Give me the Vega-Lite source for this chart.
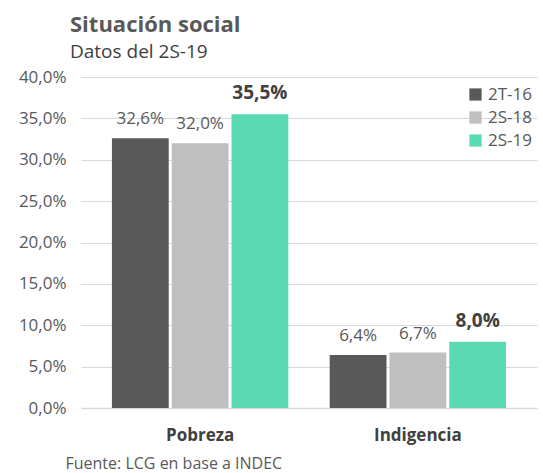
{
  "$schema": "https://vega.github.io/schema/vega-lite/v6.json",
  "autosize": {"type": "none"},
  "padding": {"left": 81, "top": 77, "right": 6, "bottom": 65},
  "width": 456,
  "height": 331,
  "config": {
    "locale": {"number": {"decimal": ",", "thousands": ".", "grouping": [3], "currency": ["$", ""]}},
    "font": "Open Sans",
    "view": {"stroke": null}
  },
  "title": {
    "text": "Situación social",
    "subtitle": "Datos del 2S-19",
    "anchor": "start",
    "frame": "group",
    "dx": -11,
    "font": "Open Sans",
    "fontSize": 22,
    "fontWeight": "bold",
    "color": "#595959",
    "subtitleFont": "Open Sans",
    "subtitleFontSize": 19,
    "subtitleColor": "#404040",
    "subtitlePadding": 6,
    "offset": 5
  },
  "data": {
    "values": [
      {"cat": "Pobreza", "serie": "2T-16", "valor": 0.326},
      {"cat": "Pobreza", "serie": "2S-18", "valor": 0.320},
      {"cat": "Pobreza", "serie": "2S-19", "valor": 0.355},
      {"cat": "Indigencia", "serie": "2T-16", "valor": 0.064},
      {"cat": "Indigencia", "serie": "2S-18", "valor": 0.067},
      {"cat": "Indigencia", "serie": "2S-19", "valor": 0.080}
    ]
  },
  "encoding": {
    "x": {
      "field": "cat", "type": "nominal", "sort": ["Pobreza", "Indigencia"],
      "scale": {"paddingInner": 0.19, "paddingOuter": 0.142},
      "axis": {
        "title": "Fuente: LCG en base a INDEC",
        "titleFont": "Open Sans", "titleFontSize": 16, "titleFontWeight": "normal", "titleColor": "#595959",
        "titleAnchor": "start", "titleAlign": "left", "titleBaseline": "alphabetic", "titleX": -16, "titleY": 60,
        "labelAngle": 0, "labelFontSize": 17, "labelFontWeight": "bold", "labelColor": "#404040",
        "labelPadding": 19, "ticks": false, "domainColor": "#d9d9d9", "domainWidth": 1.5
      }
    },
    "xOffset": {"field": "serie", "type": "nominal", "sort": ["2T-16", "2S-18", "2S-19"], "scale": {"paddingInner": 0.05}},
    "y": {
      "field": "valor", "type": "quantitative",
      "scale": {"domain": [0, 0.4], "nice": false},
      "axis": {
        "title": null, "format": ".1%", "values": [0, 0.05, 0.1, 0.15, 0.2, 0.25, 0.3, 0.35, 0.4],
        "labelFontSize": 17, "labelColor": "#595959", "labelPadding": 15, "labelOverlap": false,
        "ticks": false, "domain": false, "gridColor": "#d9d9d9", "gridWidth": 1.2
      }
    }
  },
  "layer": [
    {
      "mark": {"type": "bar"},
      "encoding": {
        "color": {
          "field": "serie", "type": "nominal", "sort": ["2T-16", "2S-18", "2S-19"],
          "scale": {"domain": ["2T-16", "2S-18", "2S-19"], "range": ["#595959", "#bfbfbf", "#5bd9b3"]},
          "legend": {
            "title": null, "orient": "none", "legendX": 386, "legendY": 9,
            "symbolType": "square", "symbolSize": 150, "symbolStrokeWidth": 0,
            "labelFontSize": 17, "labelColor": "#595959", "rowPadding": 5, "labelOffset": 4
          }
        }
      }
    },
    {
      "transform": [{"filter": "datum.serie != '2S-19'"}],
      "mark": {"type": "text", "baseline": "alphabetic", "dy": -14, "fontSize": 17, "color": "#595959"},
      "encoding": {"text": {"field": "valor", "type": "quantitative", "format": ".1%"}}
    },
    {
      "transform": [{"filter": "datum.serie == '2S-19'"}],
      "mark": {"type": "text", "baseline": "alphabetic", "dy": -15, "fontSize": 19, "fontWeight": "bold", "color": "#404040"},
      "encoding": {"text": {"field": "valor", "type": "quantitative", "format": ".1%"}}
    }
  ]
}
